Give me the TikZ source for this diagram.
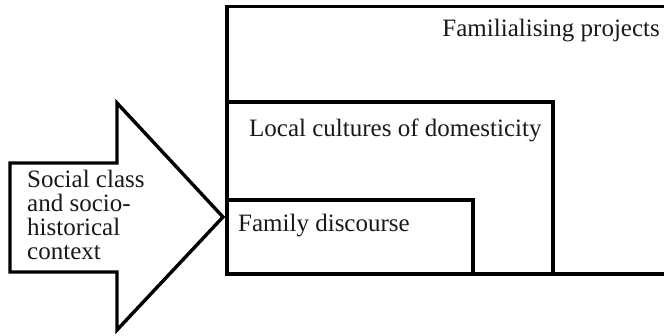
\documentclass[tikz,border=0pt]{standalone}
\usepackage{fontspec}
\setmainfont{Liberation Serif}
\tikzset{
  frame/.style={draw=black, line width=3.4pt, line join=miter},
  label/.style={inner sep=0pt, font=\fontsize{25}{26}\selectfont, text=black!90},
}
\begin{document}
\begin{tikzpicture}[x=1pt,y=-1pt]
\useasboundingbox (0,0) rectangle (664,336);
% outer box (right edge beyond the picture)
\draw[frame] (700,6.5) -- (227,6.5) -- (227,274) -- (700,274);
% middle box
\draw[frame] (227,102) -- (553,102) -- (553,274);
% inner box
\draw[frame] (227,200) -- (473,200) -- (473,274);
% big arrow
\draw[frame] (10,163) -- (117,163) -- (117,103) -- (223,217) -- (117,330) -- (117,272) -- (10,272) -- cycle;
% labels
\node[label, anchor=base east] (fp) at (660,37) {Familialising projects};
\node[label, anchor=base west] (lc) at (249,137) {Local cultures of domesticity};
\node[label, anchor=base west] (fd) at (238,232) {Family discourse};
\node[label, anchor=base west] (s1) at (27,188) {Social class};
\node[label, anchor=base west] (s2) at (27,212) {and socio-};
\node[label, anchor=base west] (s3) at (27,236) {historical};
\node[label, anchor=base west] (s4) at (27,260) {context};
\end{tikzpicture}
\end{document}
